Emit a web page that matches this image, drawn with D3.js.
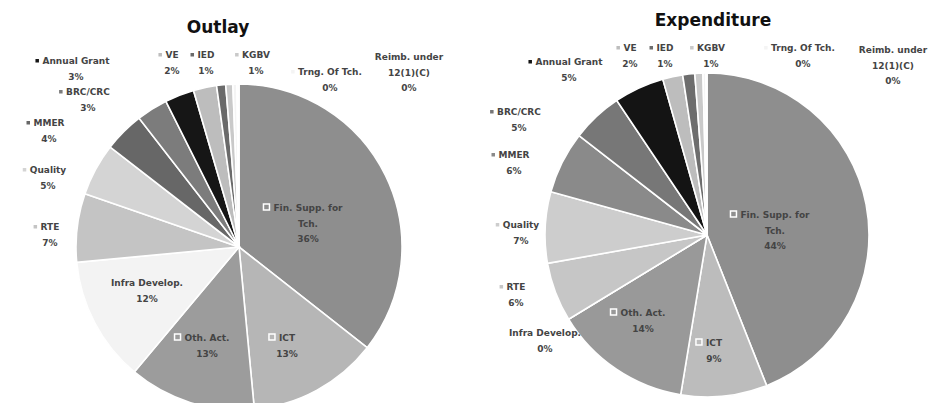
<!DOCTYPE html>
<html><head><meta charset="utf-8">
<script src="https://cdn.jsdelivr.net/npm/d3@7"></script>
<style>
html,body{margin:0;padding:0;background:#fff;}
svg text{font-family:"DejaVu Sans","Lato",sans-serif;}
</style></head>
<body><svg id="c" width="944" height="403"></svg>
<script>
// ---- data ----
const categories = ["Fin. Supp. for Tch.","ICT","Oth. Act.","Infra Develop.","RTE","Quality","MMER","BRC/CRC","Annual Grant","VE","IED","KGBV","Trng. Of Tch.","Reimb. under 12(1)(C)"];
const outlayValues      = [35.6,12.9,12.6,12.4,6.8,5.2,4.0,3.1,2.9,2.3,0.9,0.7,0.4,0.2];
const outlayLabels      = ["36%","13%","13%","12%","7%","5%","4%","3%","3%","2%","1%","1%","0%","0%"];
const expenditureValues = [44.0,8.6,13.7,0.0,5.9,7.1,6.2,5.1,5.0,2.0,1.2,0.8,0.3,0.1];
const expenditureLabels = ["44%","9%","14%","0%","6%","7%","6%","5%","5%","2%","1%","1%","0%","0%"];

// ---- styling / layout (not data) ----
const colors = ["#8e8e8e","#b6b6b6","#9c9c9c","#f3f3f3","#c4c4c4","#d4d4d4","#676767","#7c7c7c","#161616","#bdbdbd","#6a6a6a","#c9c9c9","#f4f4f4","#fafafa"];
const expColors = ["#8e8e8e","#bcbcbc","#999999","#f3f3f3","#c6c6c6","#cdcdcd","#8a8a8a","#777777","#141414","#bdbdbd","#6d6d6d","#c9c9c9","#f4f4f4","#fafafa"];
const outlayLayout = [
  {lines:["Fin. Supp. for","Tch."],x:308,y:211,inside:true},
  {lines:["ICT"],x:287,y:341,inside:true},
  {lines:["Oth. Act."],x:207,y:341,inside:true},
  {lines:["Infra Develop."],x:147,y:286,marker:false},
  {lines:["RTE"],x:50,y:230},
  {lines:["Quality"],x:48,y:173},
  {lines:["MMER"],x:49,y:126},
  {lines:["BRC/CRC"],x:88,y:95},
  {lines:["Annual Grant"],x:76,y:64},
  {lines:["VE"],x:172,y:58},
  {lines:["IED"],x:206,y:58},
  {lines:["KGBV"],x:256,y:58},
  {lines:["Trng. Of Tch."],x:330,y:75},
  {lines:["Reimb. under","12(1)(C)"],x:409,y:60,marker:false}
];
const expLayout = [
  {lines:["Fin. Supp. for","Tch."],x:775,y:218,inside:true},
  {lines:["ICT"],x:714,y:346,inside:true},
  {lines:["Oth. Act."],x:643,y:316,inside:true},
  {lines:["Infra Develop."],x:545,y:336,marker:false},
  {lines:["RTE"],x:516,y:290},
  {lines:["Quality"],x:521,y:228},
  {lines:["MMER"],x:514,y:158},
  {lines:["BRC/CRC"],x:519,y:115},
  {lines:["Annual Grant"],x:569,y:65},
  {lines:["VE"],x:630,y:51},
  {lines:["IED"],x:665,y:51},
  {lines:["KGBV"],x:711,y:51},
  {lines:["Trng. Of Tch."],x:803,y:51},
  {lines:["Reimb. under","12(1)(C)"],x:893,y:53,marker:false}
];

const svg = d3.select("#c");

function drawPie(title, titleX, titleY, cx, cy, r, values, pctLabels, cols, layout){
  const g = svg.append("g");
  g.append("text").attr("x",titleX).attr("y",titleY).attr("text-anchor","middle")
    .attr("font-size",17).attr("font-weight","bold").attr("fill","#111").text(title);
  const pie = d3.pie().sort(null).value(d=>d.v);
  const arc = d3.arc().innerRadius(0).outerRadius(r);
  const data = categories.map((c,i)=>({c, v:values[i], i}));
  const pg = g.append("g").attr("transform",`translate(${cx},${cy})`);
  pg.selectAll("path").data(pie(data)).join("path")
    .attr("d",arc).attr("fill",d=>cols[d.data.i])
    .attr("stroke","#fff").attr("stroke-width",1.6);
  layout.forEach((L,i)=>{
    const lg = g.append("g");
    const fs = 9, lh = 15.5;
    const lines = L.lines.concat([pctLabels[i]]);
    const t = lg.append("text").attr("text-anchor","middle").attr("font-size",fs)
      .attr("font-weight","bold").attr("fill","#444");
    lines.forEach((s,k)=>{
      t.append("tspan").attr("x",L.x).attr("y",L.y+k*lh).text(s);
    });
    if (L.marker !== false){
      const tmp = lg.append("text").attr("font-size",fs).attr("font-weight","bold").text(L.lines[0]);
      const tw = tmp.node().getComputedTextLength(); tmp.remove();
      const mx = L.x - tw/2 - (L.inside?10:7);
      if (L.inside){
        lg.append("rect").attr("x",mx).attr("y",L.y-7).attr("width",6).attr("height",6)
          .attr("fill",cols[i]).attr("stroke","#fff").attr("stroke-width",1.5);
      } else {
        lg.append("rect").attr("x",mx).attr("y",L.y-5).attr("width",3.5).attr("height",3.5)
          .attr("fill",cols[i]);
      }
    }
  });
}

drawPie("Outlay",218,33,239,247,163,outlayValues,outlayLabels,colors,outlayLayout);
drawPie("Expenditure",713,26,707,235,162,expenditureValues,expenditureLabels,expColors,expLayout);
</script></body></html>
